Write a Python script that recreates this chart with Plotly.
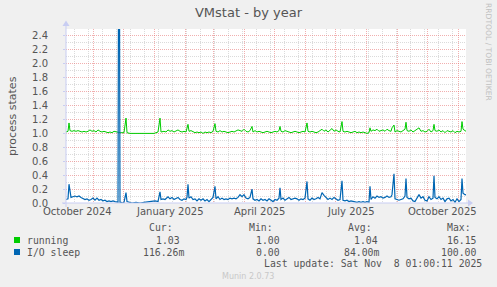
import pandas as pd
import plotly.graph_objects as go

# ---------------- data ----------------
graph_end = "2025-11-08 01:00:11"
span_days = 400

# running: day offsets from graph start, and values
run_days = [0, 2, 3, 4, 6, 8, 10, 12, 14, 16, 18, 20, 22, 24, 26, 28, 30, 32, 34, 36, 38, 40, 42, 44, 46, 48,
            50, 52, 54, 56, 58, 60, 61, 64, 68, 72, 76, 80, 84, 88, 92, 94, 95, 98, 100, 102, 104, 106, 108,
            110, 112, 114, 116, 118, 120, 122, 123, 125, 127, 129, 131, 133, 135, 137, 139, 141, 143, 145,
            147, 149, 150, 152, 154, 156, 158, 160, 162, 164, 166, 168, 170, 172, 174, 176, 178, 180, 182,
            184, 186, 187, 189, 191, 193, 195, 197, 199, 201, 203, 205, 207, 209, 211, 213, 214, 215, 217,
            219, 221, 223, 225, 227, 229, 231, 233, 235, 237, 239, 241, 242, 244, 246, 248, 250, 252, 254,
            256, 258, 260, 262, 264, 266, 268, 270, 272, 274, 276, 277, 279, 281, 283, 285, 287, 289, 291,
            293, 295, 297, 299, 301, 303, 304, 305, 307, 309, 311, 313, 315, 317, 319, 321, 323, 325, 326,
            328, 329, 331, 333, 335, 337, 339, 340, 341, 343, 345, 347, 349, 351, 353, 355, 357, 359, 361,
            363, 365, 367, 368, 369, 371, 373, 375, 377, 379, 381, 383, 385, 387, 389, 391, 393, 395, 396,
            397, 399, 400]
run_vals = [1.02, 1.03, 1.15, 1.04, 1.03, 1.04, 1.03, 1.04, 1.03, 1.02, 1.03, 1.02, 1.03, 1.05, 1.03, 1.04,
            1.02, 1.05, 1.03, 1.02, 1.03, 1.02, 1.01, 1.02, 1.01, 1.03, 1.02, 1.02, 1.01, 1.01, 1.01, 1.22,
            1.01, 1.00, 1.00, 1.01, 1.00, 1.00, 1.01, 1.00, 1.02, 1.22, 1.02, 1.03, 1.02, 1.05, 1.03, 1.04,
            1.02, 1.03, 1.05, 1.03, 1.02, 1.03, 1.02, 1.13, 1.03, 1.04, 1.02, 1.01, 1.02, 1.01, 1.02, 1.00,
            1.02, 1.01, 1.02, 1.01, 1.03, 1.14, 1.03, 1.02, 1.04, 1.02, 1.03, 1.02, 1.01, 1.02, 1.03, 1.02,
            1.03, 1.05, 1.04, 1.03, 1.06, 1.03, 1.02, 1.04, 1.10, 1.02, 1.04, 1.02, 1.03, 1.02, 1.01, 1.02,
            1.03, 1.02, 1.01, 1.02, 1.03, 1.02, 1.04, 1.10, 1.03, 1.02, 1.04, 1.03, 1.02, 1.01, 1.02, 1.03,
            1.02, 1.01, 1.02, 1.03, 1.02, 1.15, 1.03, 1.02, 1.03, 1.02, 1.01, 1.02, 1.04, 1.06, 1.03, 1.05,
            1.02, 1.04, 1.07, 1.03, 1.05, 1.03, 1.02, 1.17, 1.03, 1.02, 1.03, 1.02, 1.01, 1.02, 1.03, 1.01,
            1.02, 1.01, 1.02, 1.01, 1.00, 1.01, 1.08, 1.03, 1.05, 1.04, 1.06, 1.03, 1.04, 1.05, 1.03, 1.06,
            1.04, 1.03, 1.08, 1.12, 1.02, 1.04, 1.03, 1.02, 1.04, 1.06, 1.16, 1.04, 1.03, 1.05, 1.02, 1.04,
            1.06, 1.08, 1.03, 1.04, 1.02, 1.03, 1.06, 1.02, 1.04, 1.13, 1.04, 1.03, 1.05, 1.02, 1.04, 1.01,
            1.04, 1.03, 1.02, 1.04, 1.01, 1.03, 1.02, 1.03, 1.17, 1.06, 1.04, 1.03]

# I/O sleep: day offsets from graph start, and values
io_days = [0, 2, 3, 4, 5, 7, 9, 11, 13, 15, 17, 19, 21, 23, 25, 27, 29, 31, 33, 35, 37, 39, 41, 43, 45, 47,
           49, 52, 53, 54, 55, 57, 58, 60, 61, 63, 66, 70, 74, 78, 82, 86, 89, 92, 94, 95, 97, 99, 102, 104,
           106, 108, 110, 112, 114, 116, 118, 120, 121, 122, 123, 125, 127, 129, 131, 133, 135, 137, 139, 141,
           143, 145, 147, 149, 150, 152, 154, 156, 158, 160, 162, 164, 166, 168, 170, 172, 174, 176, 178,
           180, 182, 184, 186, 187, 189, 191, 193, 195, 197, 199, 201, 203, 205, 207, 209, 211, 213, 214,
           215, 217, 219, 221, 223, 225, 227, 229, 231, 233, 235, 237, 239, 241, 242, 244, 246, 248, 250,
           252, 254, 256, 258, 260, 262, 264, 266, 268, 270, 272, 274, 276, 277, 279, 281, 283, 285, 287,
           289, 291, 293, 295, 297, 299, 301, 303, 304, 305, 307, 309, 311, 313, 315, 317, 319, 321, 323,
           325, 326, 328, 329, 331, 333, 335, 337, 339, 340, 341, 343, 345, 347, 349, 351, 353, 355, 357,
           359, 361, 363, 365, 367, 368, 369, 371, 373, 375, 377, 379, 381, 383, 385, 387, 389, 391, 393,
           395, 396, 397, 399, 400]
io_vals = [0.05, 0.06, 0.27, 0.12, 0.08, 0.09, 0.10, 0.09, 0.10, 0.08, 0.06, 0.05, 0.06, 0.04, 0.05, 0.07,
           0.04, 0.07, 0.04, 0.05, 0.03, 0.04, 0.02, 0.03, 0.02, 0.03, 0.02, 0.01, 6.00, 0.01, 0.01, 0.00,
           0.01, 0.15, 0.02, 0.01, 0.00, 0.01, 0.00, 0.01, 0.02, 0.02, 0.03, 0.02, 0.16, 0.05, 0.06, 0.05,
           0.09, 0.06, 0.08, 0.05, 0.07, 0.08, 0.05, 0.04, 0.06, 0.05, 0.08, 0.27, 0.07, 0.09, 0.05, 0.06,
           0.03, 0.06, 0.04, 0.06, 0.03, 0.05, 0.02, 0.05, 0.08, 0.24, 0.06, 0.09, 0.05, 0.07, 0.05, 0.06,
           0.05, 0.07, 0.06, 0.07, 0.06, 0.08, 0.12, 0.09, 0.12, 0.07, 0.06, 0.08, 0.20, 0.06, 0.04, 0.05,
           0.03, 0.06, 0.04, 0.05, 0.03, 0.06, 0.04, 0.02, 0.05, 0.04, 0.07, 0.22, 0.05, 0.07, 0.04, 0.06,
           0.08, 0.05, 0.06, 0.07, 0.06, 0.04, 0.06, 0.05, 0.07, 0.31, 0.06, 0.04, 0.07, 0.05, 0.06, 0.08,
           0.06, 0.15, 0.11, 0.08, 0.05, 0.07, 0.05, 0.08, 0.06, 0.04, 0.05, 0.32, 0.04, 0.03, 0.04, 0.02,
           0.03, 0.02, 0.02, 0.01, 0.02, 0.01, 0.02, 0.01, 0.02, 0.01, 0.24, 0.05, 0.09, 0.07, 0.10, 0.08,
           0.09, 0.07, 0.08, 0.10, 0.08, 0.09, 0.12, 0.42, 0.06, 0.05, 0.04, 0.05, 0.06, 0.10, 0.35, 0.08,
           0.06, 0.07, 0.03, 0.02, 0.08, 0.12, 0.07, 0.09, 0.04, 0.03, 0.09, 0.05, 0.07, 0.39, 0.08, 0.06,
           0.09, 0.05, 0.07, 0.02, 0.06, 0.07, 0.03, 0.05, 0.01, 0.06, 0.02, 0.05, 0.35, 0.14, 0.12, 0.116]

month_label_dates = ["2024-10-16", "2025-01-16", "2025-04-16", "2025-07-16", "2025-10-16"]
month_label_text = ["October 2024", "January 2025", "April 2025", "July 2025", "October 2025"]

series_names = ["running", "I/O sleep"]
series_colors = ["#00CC00", "#0066B3"]
cur_vals = ["1.03", "116.26m"]
min_vals = ["1.00", "0.00"]
avg_vals = ["1.04", "84.00m"]
max_vals = ["16.15", "100.00"]

# ---------------- figure ----------------
W, H = 497, 287
L, R, T, B = 66, 466, 29, 203   # plot area in pixels


def px(x):
    return (x - L) / (R - L)


def py(y):
    return (B - y) / (B - T)


end = pd.Timestamp(graph_end).floor("min")
start = end - pd.Timedelta(days=span_days)
run_x = start + pd.to_timedelta(run_days, unit="D")
io_x = start + pd.to_timedelta(io_days, unit="D")

fig = go.Figure()
fig.add_trace(go.Scatter(x=run_x, y=run_vals, mode="lines", name=series_names[0],
                         line=dict(color=series_colors[0], width=1)))
fig.add_trace(go.Scatter(x=io_x, y=io_vals, mode="lines", name=series_names[1],
                         line=dict(color=series_colors[1], width=1.2)))

grid_minor = "rgba(175,175,175,0.45)"
grid_major = "rgba(230,110,110,0.55)"
axis_col = "#C8CDF2"
txt = "#555555"
font = "DejaVu Sans"
mono = "DejaVu Sans Mono"

fig.update_layout(
    width=W, height=H, autosize=False,
    margin=dict(l=L, r=W - R, t=T, b=H - B, pad=0),
    paper_bgcolor="#F0F0F0", plot_bgcolor="#FFFFFF",
    showlegend=False,
    font=dict(family=font, color=txt, size=10),
    title=dict(text="VMstat - by year", x=0.5, xanchor="center", y=1 - 12 / H, yanchor="middle",
               font=dict(family=font, size=13, color=txt)),
)
fig.update_xaxes(
    type="date", range=[start, end], showline=False, zeroline=False,
    tickmode="linear", tick0="2024-11-01", dtick="M1",
    showticklabels=False, ticks="",
    showgrid=True, gridcolor=grid_major, griddash="1px,1px", gridwidth=1,
    minor=dict(showgrid=True, tick0="2024-10-13", dtick=14 * 86400000,
               gridcolor=grid_minor, griddash="1px,1px", gridwidth=1, ticks=""),
)
fig.update_yaxes(
    range=[0, 2.5], tickmode="linear", tick0=0, dtick=0.2, tickformat=".1f",
    showline=False, zeroline=False,
    ticks="outside", ticklen=2, tickcolor=axis_col, ticklabelstandoff=13,
    tickfont=dict(family=font, size=10, color=txt),
    showgrid=True, gridcolor=grid_major, griddash="1px,1px", gridwidth=1,
    minor=dict(showgrid=True, tick0=0, dtick=0.1, gridcolor=grid_minor,
               griddash="1px,1px", gridwidth=1, ticks=""),
)

shapes = []
# axes with arrows
shapes.append(dict(type="line", xref="paper", yref="paper", x0=px(62), x1=px(468), y0=0, y1=0,
                   line=dict(color=axis_col, width=1), layer="above"))
shapes.append(dict(type="line", xref="paper", yref="paper", x0=0, x1=0, y0=py(207), y1=py(25),
                   line=dict(color=axis_col, width=1), layer="above"))
shapes.append(dict(type="path", xref="paper", yref="paper", fillcolor=axis_col, line=dict(width=0),
                   path=f"M {px(468)} {py(199.5)} L {px(473)} {py(203)} L {px(468)} {py(206.5)} Z"))
shapes.append(dict(type="path", xref="paper", yref="paper", fillcolor=axis_col, line=dict(width=0),
                   path=f"M {px(62.5)} {py(26)} L {px(66)} {py(20.5)} L {px(69.5)} {py(26)} Z"))
# legend swatches
for i, c in enumerate(series_colors):
    yc = 240 + 12 * i
    shapes.append(dict(type="rect", xref="paper", yref="paper", x0=px(14), x1=px(20),
                       y0=py(yc - 3), y1=py(yc + 3), fillcolor=c, line=dict(width=0)))
fig.update_layout(shapes=shapes)

ann = []
# x axis month labels
for d, t in zip(month_label_dates, month_label_text):
    ann.append(dict(x=d, xref="x", y=py(211), yref="paper", text=t, showarrow=False,
                    xanchor="center", yanchor="middle", font=dict(family=font, size=10, color=txt)))


def label(x, y, t, size=9.8, color=txt, fam=mono, anchor="left", angle=0):
    ann.append(dict(x=px(x), y=py(y), xref="paper", yref="paper", text=t, showarrow=False,
                    xanchor=anchor, yanchor="middle", textangle=angle, borderpad=0,
                    font=dict(family=fam, size=size, color=color)))


label(148, 227.5, "Cur:")
label(248, 227.5, "Min:")
label(347, 227.5, "Avg:")
label(446, 227.5, "Max:")
col_starts = [[155, 255, 353, 446], [142, 255, 343, 440]]
for i, nm in enumerate(series_names):
    yy = 240 + 12 * i
    label(25.5, yy, nm)
    for cx, v in zip(col_starts[i], [cur_vals[i], min_vals[i], avg_vals[i], max_vals[i]]):
        label(cx, yy, v)
label(482.5, 263.5, "Last update: Sat Nov&nbsp;&nbsp;8 01:00:11 2025", anchor="right")
label(248, 276, "Munin 2.0.73", size=8, color="#C8C8C8", fam=font, anchor="center")
label(489, 52, "RRDTOOL / TOBI OETIKER", size=7.6, color="#C0C0C0", fam=font, anchor="center", angle=90)
label(12, 116, "process states", size=11, color=txt, fam=font, anchor="center", angle=-90)
fig.update_layout(annotations=ann)

fig.write_html("out.html")
